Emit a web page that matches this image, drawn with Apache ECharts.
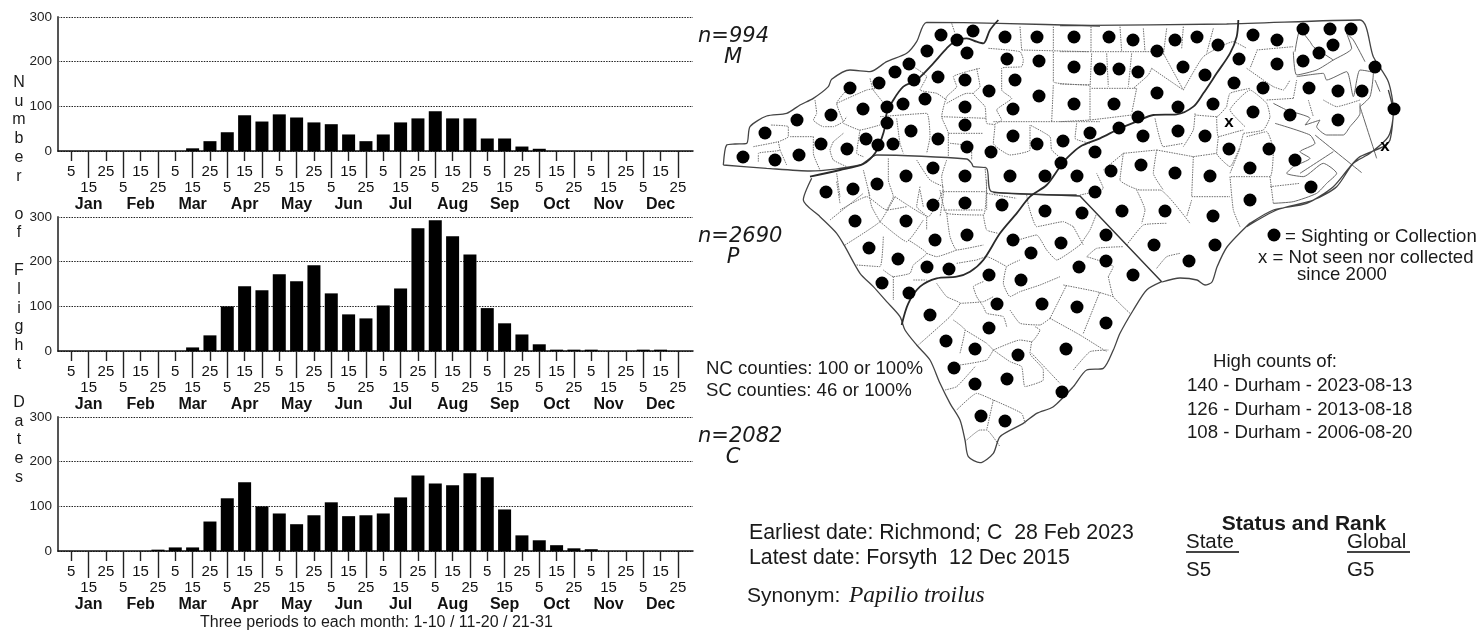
<!DOCTYPE html>
<html><head><meta charset="utf-8">
<style>html,body{margin:0;padding:0;background:#fff}#c{width:1477px;height:631px}</style>
<script src="https://cdn.jsdelivr.net/npm/echarts@6/dist/echarts.min.js"></script>
</head><body><div id="c"></div>
<script>
const months=['Jan','Feb','Mar','Apr','May','Jun','Jul','Aug','Sep','Oct','Nov','Dec'];
const periods=['5','15','25'];
const valuesM=[0,0,0,0,0,0,0,6,22,42,80,66,82,75,64,60,37,22,37,64,73,89,73,73,28,28,10,5,0,0,0,0,0,0,0,0];
const valuesP=[0,0,0,0,0,0,0,8,35,100,145,136,172,156,192,129,82,73,102,140,275,293,257,216,96,62,37,15,3,3,3,0,0,3,3,0];
const valuesC=[0,0,0,0,0,3,8,8,66,118,154,100,84,60,80,109,78,80,84,120,169,151,147,174,165,93,35,24,13,6,4,0,0,0,0,0];
const yTicks=[0,100,200,300];
const nLabels=[['n=994','M'],['n=2690','P'],['n=2082','C']];
const sightings=[[941,35],[957,40],[973,31],[1005,37],[1037,37],[1074,37],[927,51],[967,53],[1007,59],[1039,61],[1074,67],[1100,69],[909,64],[895,72],[914,80],[938,77],[965,80],[1015,80],[879,83],[850,88],[989,91],[1039,96],[1074,104],[925,99],[903,104],[887,107],[863,109],[965,107],[1013,109],[831,115],[797,120],[887,123],[965,125],[911,131],[765,133],[1013,136],[938,139],[866,139],[1090,133],[1063,141],[821,144],[1037,144],[878,145],[893,144],[967,147],[847,149],[991,152],[799,155],[743,157],[775,160],[1095,152],[1061,163],[933,168],[906,176],[965,176],[1010,176],[1045,176],[1077,176],[877,184],[853,189],[826,192],[1095,192],[965,203],[933,205],[1002,205],[1045,211],[1082,213],[855,221],[906,221],
[1109,37],[1133,40],[1157,51],[1175,40],[1197,37],[1218,45],[1253,35],[1277,40],[1303,29],[1330,29],[1351,29],[1333,45],[1319,53],[1303,61],[1239,59],[1277,64],[1119,69],[1138,72],[1183,67],[1205,75],[1375,67],[1234,83],[1263,88],[1309,88],[1338,91],[1362,91],[1157,93],[1114,104],[1178,107],[1213,104],[1394,109],[1253,112],[1290,115],[1138,117],[1338,120],[1119,128],[1178,131],[1143,136],[1205,136],[1229,149],[1269,149],[1295,160],[1141,165],[1250,168],[1111,171],[1175,173],[1210,176],[1311,187],[1250,200],[1122,211],[1165,211],[1213,216],
[967,235],[1106,235],[935,240],[1013,240],[1061,243],[1154,245],[869,248],[1031,253],[898,259],[1106,261],[927,267],[1079,267],[949,269],[882,283],[989,275],[1021,280],[1133,275],[909,293],[997,304],[1042,304],[1077,307],[930,315],[1106,323],[989,328],[946,341],[1066,349],[975,349],[1018,355],[954,368],[1007,379],[975,384],[1062,392],[981,416],[1005,421],[1189,261],[1215,245]];
const notSeen=[[1229,123],[1385,147]];
const legendDot=[[1274,235]];
// map traces, in the same 1477x631 data space, grouped by the region they were read from
const c7=p=>p.map(([x,y])=>[700+x/3,10+y/3]);
const c8=p=>p.map(([x,y])=>[1060+x/3,10+y/3]);
const c9=p=>p.map(([x,y])=>[780+x/3,170+y/3]);
const stateBorder=[
 c7([[70,465],[80,405],[105,402],[140,400],[150,350],[200,318],[260,310],[300,285],[340,265],[385,230],[395,208],[450,180],[510,185],[560,155],[620,130],[650,95],[680,37],[895,40],[1200,48]]),
 c8([[0,47],[500,42],[900,30],[940,140],[985,215],[1000,300],[990,390],[970,410],[900,440],[870,470],[820,530],[740,580],[640,600],[570,640]]),
 c9([[1145,335],[1100,360],[1060,420],[1020,490],[1000,540],[970,595],[920,600],[880,650],[820,710],[770,730],[730,760],[660,800],[640,850],[600,878],[565,860],[555,810],[540,750],[510,700],[480,640],[450,570],[410,525],[375,480],[360,440],[320,395],[280,350],[240,310],[195,230],[170,190],[120,140],[70,90],[95,25]]),
 [[1250,223],[1227,247],[1217,267],[1212,282],[1205,285],[1197,280],[1180,278],[1162,282]],
 c7([[70,465],[200,475],[330,483],[480,465],[530,435],[800,447],[815,460],[820,470],[860,475],[875,545],[1130,555]]),
 c8([[985,240],[1000,310],[985,380],[930,430],[880,460],[830,530],[760,570],[650,600],[560,650]])
];
const soundLines=[
 c8([[900,280],[900,310],[870,350],[850,375],[800,375],[770,350],[780,330],[750,340],[735,345],[750,325],[680,300],[640,280]]),
 c8([[645,340],[750,375],[765,400],[720,425],[750,445],[700,470],[680,490],[730,500],[790,460],[830,490],[800,520],[770,550],[700,575],[640,580]]),
 c8([[700,125],[710,195],[770,180],[820,150],[875,115],[860,70],[880,90],[915,155]]),
 c8([[710,200],[790,190],[800,210],[860,185],[880,260],[900,180],[940,190],[930,260],[900,290]]),
 c8([[705,125],[720,60],[750,95],[760,110],[820,150]]),
 c8([[765,375],[905,488]]),c8([[900,290],[950,445]]),c8([[820,425],[720,490]]),
 c8([[945,210],[960,245]])
];
const provinceLines=[
 c7([[895,30],[870,60],[850,100],[830,95],[800,85],[770,90],[740,115],[700,160],[650,210],[610,230],[580,270],[560,310],[555,350],[545,385],[525,430],[490,462],[420,480],[330,500]]),
 c8([[535,30],[530,80],[510,130],[470,190],[430,250],[400,290],[350,313],[280,315],[230,335],[180,355],[120,385],[60,410],[20,445],[0,470]]).concat(c9([[800,45],[750,80],[710,130],[660,190],[610,270],[570,305],[530,320],[470,325],[420,350],[385,400],[365,465]]))
];
const stateDiagonal=[c9([[640,68],[900,78],[1145,335]])];
const countyLines=[
 ...[[[755,40],[765,70]],[[865,115],[960,125],[970,150],[965,170],[905,175],[905,240],[935,265],[890,300],[905,330],[880,345]],[[960,50],[965,120]],[[1060,50],[1060,120]],[[965,120],[1165,125]],[[1060,125],[1060,215],[1170,225]],[[1060,225],[1055,335]],[[880,335],[1200,335]],[[830,175],[840,230],[820,250],[855,290],[860,340],[885,345],[880,400],[930,435],[990,420],[990,345],[1050,380],[1055,420],[1090,450]],[[840,175],[800,185],[760,200],[770,230],[740,260],[725,320],[745,370],[745,440]],[[740,280],[800,250],[820,250]],[[725,320],[860,325]],[[745,370],[850,370]],[[750,400],[815,410],[815,450]],[[540,320],[680,310],[690,380],[680,430]],[[345,270],[350,310],[340,330],[370,350],[400,350],[430,335],[440,320]],[[410,280],[500,240],[530,235]],[[160,410],[235,395],[265,380],[265,350],[210,345]],[[235,395],[240,420],[175,430],[175,455]],[[240,420],[260,465]],[[340,380],[340,430],[360,480]],[[400,395],[390,420],[400,450],[440,470]],[[430,370],[400,395]],[[430,340],[480,360],[540,345]],[[480,360],[470,430],[490,440]],[[270,380],[340,380]],[[510,205],[520,240],[560,290]],[[440,240],[410,280],[430,335]],[[640,170],[680,200],[660,240],[710,250],[740,270]],[[590,325],[600,400],[610,430]],[[410,490],[420,560]],[[490,480],[510,560]],[[565,445],[565,510],[580,560],[560,600]],[[650,450],[690,510],[730,530]],[[740,450],[725,500],[730,550],[720,620]],[[660,530],[650,590],[680,620],[680,660]],[[730,545],[860,545]],[[855,470],[860,540],[860,600]],[[730,600],[850,600]],[[420,600],[500,560],[560,600],[620,590]],[[1130,340],[1125,385],[1170,400]]].map(c7),
 ...[[[93,50],[93,125]],[[180,50],[185,125]],[[250,55],[255,125]],[[320,55],[310,135]],[[370,50],[365,115]],[[460,55],[440,130]],[[0,125],[310,125]],[[140,130],[145,230]],[[95,130],[90,235]],[[215,130],[205,230]],[[0,222],[90,225]],[[95,235],[230,235],[215,310]],[[90,235],[90,330]],[[0,335],[90,330],[215,315]],[[275,175],[265,195],[220,235]],[[275,175],[370,240],[310,130]],[[370,240],[430,140],[520,95],[560,115]],[[285,325],[310,410],[370,400]],[[405,310],[400,360],[370,410]],[[405,315],[470,320],[500,290]],[[500,290],[510,250],[570,235]],[[470,320],[475,380],[530,365],[550,360]],[[555,350],[510,300],[570,240],[620,280],[630,320],[610,360],[550,370]],[[475,380],[470,430],[510,470],[540,410],[550,370]],[[560,175],[610,210],[640,230],[670,240],[690,210]],[[590,125],[570,175]],[[700,265],[620,270]],[[745,270],[760,320]],[[700,265],[710,210]],[[790,270],[830,290],[900,270]],[[560,380],[620,365],[640,420],[630,500],[510,500]],[[540,415],[510,490]],[[510,500],[520,600],[540,650]],[[400,440],[470,430]],[[400,440],[395,560],[510,560]],[[290,420],[400,440]],[[290,420],[280,490],[310,540]],[[190,430],[290,420]],[[190,430],[180,510],[240,540],[300,540],[390,640]],[[130,480],[190,430]],[[60,555],[130,535],[110,490]],[[230,540],[255,600],[245,640]],[[395,570],[380,620]],[[630,530],[720,520]],[[630,500],[640,580]],[[590,120],[700,110]]].map(c8),
 ...[[[150,150],[250,70]],[[195,225],[300,155],[345,80]],[[300,155],[380,215],[430,150]],[[170,35],[180,100]],[[265,60],[275,110],[300,155]],[[345,80],[445,140],[490,60]],[[480,60],[500,130],[610,135],[620,30]],[[500,130],[510,200],[530,240],[610,225]],[[610,135],[620,180],[655,190]],[[620,70],[710,85]],[[745,105],[770,170],[850,155],[880,170]],[[740,75],[745,105]],[[715,210],[770,195],[800,240],[830,270],[900,225]],[[900,225],[930,180],[950,130]],[[880,170],[910,225]],[[920,260],[950,235],[1030,230]],[[1040,225],[1090,165],[1160,160]],[[1130,295],[1160,260],[1200,250]],[[985,320],[1000,290],[920,260]],[[985,320],[1000,380],[1050,430]],[[850,345],[950,365],[1000,380]],[[840,320],[780,345],[720,365],[690,380],[670,340],[680,290],[720,270]],[[590,270],[620,260],[680,290]],[[610,335],[580,350],[590,380],[610,410],[620,430],[670,440],[680,470]],[[540,400],[610,395],[640,380]],[[470,340],[500,380],[540,400],[510,440],[415,525]],[[520,450],[555,480],[540,550]],[[555,480],[620,520],[640,540]],[[640,540],[720,510],[755,515],[780,480],[765,470]],[[690,420],[720,460],[780,465],[810,445]],[[810,445],[860,345]],[[810,445],[900,495],[980,545]],[[910,490],[960,365]],[[755,515],[750,550],[790,600],[790,630],[735,650],[725,590],[690,575],[640,540]],[[880,600],[930,545],[985,540]],[[755,550],[840,640]],[[540,585],[620,570],[640,540]],[[495,660],[530,650],[585,590]],[[530,720],[590,670],[640,690],[725,730],[735,760]],[[640,690],[620,780]],[[560,810],[600,780],[620,780],[660,830]],[[230,285],[300,290],[310,200]],[[310,300],[340,320],[390,310],[400,285],[440,250],[385,210]],[[340,320],[340,390]],[[400,330],[440,330]],[[530,240],[470,260],[440,250]],[[530,280],[590,270]],[[430,110],[420,60]]].map(c9)
];
const flat=ls=>ls.flatMap(l=>[...l,[NaN,NaN]]);
const F='"Liberation Sans",Arial,sans-serif';
const tops=[17,217,417];
const tickVals=[...Array(36).keys()];
const label=i=>periods[i%3];
const grid=[],xAxis=[],yAxis=[],series=[];
[valuesM,valuesP,valuesC].forEach((vals,g)=>{
  grid.push({left:58,top:tops[g],width:635,height:134});
  const common={type:'value',gridIndex:g,min:-0.767,max:35.87,position:'bottom',splitLine:{show:false},axisLine:{show:false},axisTick:{show:false},axisLabel:{show:false}};
  const base=xAxis.length;
  const tk=(vs,len)=>({show:true,customValues:vs,length:len,lineStyle:{color:'#222',width:1.4}});
  const lb=(vs,m,f,extra)=>Object.assign({show:true,customValues:vs,margin:m,hideOverlap:false,color:'#111',fontFamily:F,fontSize:15,formatter:f},extra||{});
  const even=tickVals.filter(i=>i%2===0),odd=tickVals.filter(i=>i%2===1);
  xAxis.push(Object.assign({},common,{axisLine:{show:true,onZero:false,lineStyle:{color:'#111',width:1.5}},axisTick:tk(even,10),axisLabel:lb(even,13,v=>label(v))}));
  xAxis.push(Object.assign({},common,{axisTick:tk(odd,27),axisLabel:lb(odd,29,v=>label(v))}));
  xAxis.push(Object.assign({},common,{axisLabel:lb(months.map((m,i)=>1+3*i),45.5,v=>months[(v-1)/3],{fontWeight:'bold',fontSize:16})}));
  yAxis.push({type:'value',gridIndex:g,min:0,max:300,interval:100,axisLine:{show:true,onZero:false,lineStyle:{color:'#555',width:2}},axisTick:{show:false},
    axisLabel:{margin:6,color:'#222',fontFamily:F,fontSize:13.5,formatter:v=>yTicks.includes(v)?String(v):''},splitLine:{show:true,lineStyle:{type:[1.5,1.2],color:'#222',width:1}}});
  series.push({type:'bar',xAxisIndex:base,yAxisIndex:g,barWidth:13,itemStyle:{color:'#000'},silent:true,data:vals.map((v,i)=>[i,v]),z:3});
});
// hidden full-page axes for the map
grid.push({left:0,top:0,width:1477,height:631});
const mg=grid.length-1;
xAxis.push({type:'value',gridIndex:mg,min:0,max:1477,show:false});
yAxis.push({type:'value',gridIndex:mg,min:0,max:631,inverse:true,show:false});
const mx=xAxis.length-1,my=yAxis.length-1;
const ln=(d,st,z,sm)=>({type:'line',xAxisIndex:mx,yAxisIndex:my,data:flat(d),symbol:'none',connectNulls:false,silent:true,smooth:sm,lineStyle:st,z:z,clip:false,animation:false});
series.push(ln(countyLines,{color:'#6f6f6f',width:1,type:[1.5,1]},5,0.15));
series.push(ln(soundLines,{color:'#666',width:1},5,0.2));
series.push(ln(stateBorder,{color:'#444',width:1.3},6,0.25));
series.push(ln(stateDiagonal,{color:'#333',width:1.4},6,false));
series.push(ln(provinceLines,{color:'#2a2a2a',width:1.8},7,0.3));
series.push({type:'scatter',xAxisIndex:mx,yAxisIndex:my,data:sightings.concat(legendDot),symbolSize:13,itemStyle:{color:'#000',opacity:1},z:8,silent:true});
series.push({type:'scatter',xAxisIndex:mx,yAxisIndex:my,data:notSeen,symbolSize:1,itemStyle:{color:'#000',opacity:1},z:9,silent:true,
  label:{show:true,position:'inside',formatter:'x',color:'#000',fontFamily:F,fontWeight:'bold',fontSize:17,offset:[0,-1]}});
const T=(x,y,text,o)=>({type:'text',x,y,silent:true,z:20,style:Object.assign({text,fill:'#1a1a1a',font:'18.6px '+F,verticalAlign:'middle'},o||{})});
const graphic=[
 T(19,73,'N\nu\nm\nb\ne\nr\n \no\nf\n \nF\nl\ni\ng\nh\nt\n \nD\na\nt\ne\ns',{font:'16px '+F,textAlign:'center',verticalAlign:'top',lineHeight:18.82}),
 T(200,623,'Three periods to each month: 1-10 / 11-20 / 21-31',{font:'16px '+F}),
 T(706,369,'NC counties: 100 or 100%'),T(706,391,'SC counties: 46 or 100%'),
 T(1285,237,'= Sighting or Collection'),T(1258,258,'x = Not seen nor collected'),T(1297,275,'since 2000'),
 T(1213,362,'High counts of:'),T(1187,386,'140 - Durham - 2023-08-13'),T(1187,410,'126 - Durham - 2013-08-18'),T(1187,433,'108 - Durham - 2006-08-20'),
 T(749,533,'Earliest date: Richmond; C  28 Feb 2023',{font:'21.3px '+F}),T(749,558,'Latest date: Forsyth  12 Dec 2015',{font:'21.3px '+F}),
 T(747,596,'Synonym: ',{font:'21px '+F}),T(849,596,'Papilio troilus',{font:'italic 23.5px "Liberation Serif",serif'}),
 T(1304,524,'Status and Rank',{font:'bold 21px '+F,textAlign:'center'}),
 T(1186,542,'State',{font:'20.5px '+F}),T(1347,542,'Global',{font:'20.5px '+F}),T(1186,570,'S5',{font:'20.5px '+F}),T(1347,570,'G5',{font:'20.5px '+F}),
 {type:'rect',silent:true,z:20,shape:{x:1186,y:551,width:53,height:2},style:{fill:'#444'}},
 {type:'rect',silent:true,z:20,shape:{x:1347,y:551,width:63,height:2},style:{fill:'#444'}}
];
const nCenters=[[37,58],[237,258],[437,458]];
nLabels.forEach((p,i)=>{
  graphic.push(T(698,nCenters[i][0],p[0],{font:'italic 21px "DejaVu Sans",sans-serif'}));
  graphic.push(T(733,nCenters[i][1],p[1],{font:'italic 21px "DejaVu Sans",sans-serif',textAlign:'center'}));
});
const chart=echarts.init(document.getElementById('c'),null,{renderer:'canvas'});
chart.setOption({animation:false,backgroundColor:'#fff',grid,xAxis,yAxis,series,graphic});
</script></body></html>
